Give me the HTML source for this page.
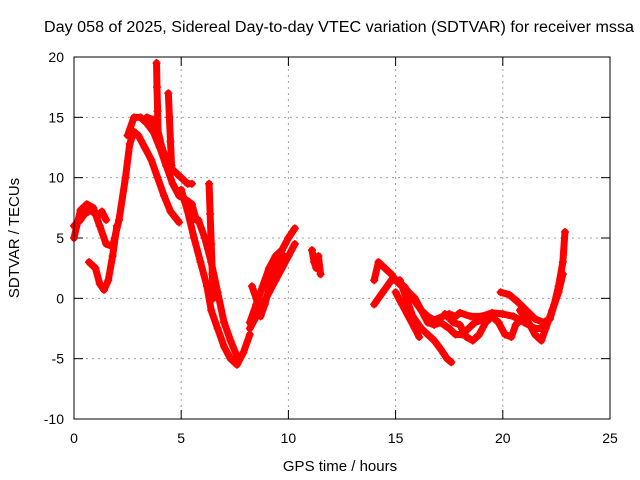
<!DOCTYPE html>
<html><head><meta charset="utf-8"><style>
body{margin:0;background:#fff}
svg{display:block;font-family:"Liberation Sans",sans-serif}
</style></head><body>
<svg id="chart" width="640" height="480">
<text x="339" y="32" font-size="15.5" text-anchor="middle" textLength="590" lengthAdjust="spacingAndGlyphs">Day 058 of 2025, Sidereal Day-to-day VTEC variation (SDTVAR) for receiver mssa</text>
<text x="340" y="471" font-size="15" text-anchor="middle">GPS time / hours</text>
<text transform="translate(19,238) rotate(-90)" font-size="15" text-anchor="middle">SDTVAR / TECUs</text>
<g id="grid"></g><g id="ticks"></g><g id="marks"></g>
<rect x="74" y="57" width="536" height="362" fill="none" stroke="#000" stroke-width="1"/>
</svg>
<script>
const xTicks=[0,5,10,15,20,25];
const yTicks=[-10,-5,0,5,10,15,20];
const s1=[[0,5],[0.3,7.3],[0.6,7.8],[0.9,7.5],[1.2,6],[1.5,4.5],[1.8,4.3],[2.1,6.5],[2.4,10],[2.6,12.8],[2.8,13.8],[3.0,13.5],[3.3,12.5],[3.6,11.5],[3.9,10],[4.2,8.5],[4.5,7.2],[4.9,6.3]];
const s2=[[0,6],[0.3,6.5],[0.5,7],[0.8,7.3],[1.1,6.8],[1.3,7.2],[1.5,6.5]];
const s3=[[0.7,3],[1.0,2.5],[1.2,1.2],[1.4,0.7],[1.6,1.5],[1.8,3.5],[2.0,6]];
const s4=[[2.5,13.5],[2.8,15],[3.1,15],[3.4,14.5],[3.7,13.8],[4.0,12.5],[4.3,11],[4.6,9.5],[4.9,8.5],[5.2,8.2],[5.5,7.8],[5.7,6.5]];
const s5=[[3.4,15],[3.7,14.8],[3.9,14],[4.1,12.5],[4.4,11],[4.7,10.5],[5.0,10],[5.3,9.5],[5.5,9.5]];
const s6=[[3.85,19.5],[3.87,17.5],[3.9,15.5],[3.92,13.5]];
const s7=[[4.4,17],[4.45,15],[4.5,13],[4.55,11]];
const s8=[[5.0,9],[5.3,7.2],[5.6,5],[5.9,3],[6.2,1],[6.4,-1],[6.7,-2.5],[7.0,-4],[7.3,-5],[7.6,-5.5],[7.9,-4.5],[8.2,-3]];
const s9=[[5.8,6.5],[6.1,5],[6.4,3],[6.7,0.5],[7.0,-2],[7.3,-3.5],[7.6,-4.8]];
const s10=[[6.3,9.5],[6.35,7],[6.4,4.5],[6.45,2],[6.5,0]];
const s11=[[8.2,-2],[8.5,-0.5],[8.8,1],[9.1,2.5],[9.4,3.5],[9.7,4],[10.0,5],[10.3,5.8]];
const s12=[[8.2,-2.5],[8.5,-1.5],[8.8,-0.5],[9.1,0.5],[9.4,1.5],[9.7,2.5],[10.0,3.5],[10.3,4.5]];
const s13=[[8.3,1],[8.5,0],[8.7,-1.5],[8.9,-0.5],[9.2,1.5],[9.5,3],[9.8,3.5]];
const s14=[[11.1,4],[11.2,3],[11.3,2.5],[11.4,3.5],[11.5,2]];
const p1=[[14.0,1.5],[14.2,3],[14.5,2.5],[14.8,2],[15.0,1.5],[15.3,1],[15.6,0.5],[15.9,0],[16.2,-1],[16.5,-1.5],[16.8,-1.8],[17.2,-1.5],[17.5,-1.3],[17.8,-1.5],[18.0,-1.2],[18.5,-1.5],[19.0,-1.5],[19.5,-1.2],[20.0,-1.3],[20.5,-1.5],[21.0,-2],[21.5,-2.5],[21.8,-2.5]];
const p2=[[14.0,-0.5],[14.4,0.5],[14.8,1.5],[15.2,1.5],[15.5,0],[15.8,-1.5],[16.2,-2.5],[16.5,-3],[16.8,-3.5],[17.1,-4.2],[17.4,-5],[17.6,-5.3]];
const p3=[[15.4,1],[15.8,0],[16.2,-1],[16.5,-2],[16.8,-2.2],[17.1,-2],[17.5,-2.5],[17.8,-3],[18.1,-3],[18.4,-2.5],[18.7,-2],[19.0,-1.8]];
const p4=[[17.3,-1.3],[17.7,-2],[18.0,-2.2],[18.3,-3.2],[18.6,-3.5],[18.9,-3],[19.2,-2],[19.5,-1.5],[19.8,-2],[20.1,-3],[20.4,-3.2],[20.6,-2.2],[21.0,-1.5]];
const p5=[[19.9,0.5],[20.3,0.3],[20.7,-0.3],[21.1,-1],[21.5,-1.7],[21.9,-2],[22.2,-1.7],[22.4,-0.5],[22.6,1],[22.8,3],[22.9,5.5]];
const p6=[[20.8,-1],[21.2,-2],[21.5,-3],[21.8,-3.5],[22.0,-2.5],[22.3,-1],[22.6,0.5],[22.8,2]];
const p7=[[15.0,0.5],[15.3,-0.5],[15.6,-1.5],[15.9,-2.5],[16.1,-3.2]];
const series=[s1,s2,s3,s4,s5,s6,s7,s8,s9,s10,s11,s12,s13,s14,p1,p2,p3,p4,p5,p6,p7];
const NS="http://www.w3.org/2000/svg";
const X=t=>74+t*(536/25);
const Y=v=>419-(v+10)*(362/30);
function mk(tag,attrs,parent){const e=document.createElementNS(NS,tag);for(const k in attrs)e.setAttribute(k,attrs[k]);parent.appendChild(e);return e;}
const grid=document.getElementById('grid'),ticks=document.getElementById('ticks'),marks=document.getElementById('marks');
xTicks.forEach(t=>{
  if(t>0&&t<25){const g=mk('line',{x1:X(t),x2:X(t),y1:57,y2:419,stroke:'#a0a0a0','stroke-dasharray':'2,4'},grid);
  
  }
  mk('line',{x1:X(t),x2:X(t),y1:419,y2:410,stroke:'#000'},ticks);
  mk('line',{x1:X(t),x2:X(t),y1:57,y2:66,stroke:'#000'},ticks);
  const l=mk('text',{x:X(t),y:443,'font-size':14,'text-anchor':'middle'},ticks);l.textContent=t;
  
  
});
yTicks.forEach(v=>{
  if(v>-10&&v<20){const g=mk('line',{x1:74,x2:610,y1:Y(v),y2:Y(v),stroke:'#a0a0a0','stroke-dasharray':'2,4'},grid);
  
  }
  mk('line',{x1:74,x2:83,y1:Y(v),y2:Y(v),stroke:'#000'},ticks);
  mk('line',{x1:610,x2:601,y1:Y(v),y2:Y(v),stroke:'#000'},ticks);
  const l=mk('text',{x:64,y:Y(v)+5,'font-size':14,'text-anchor':'end'},ticks);l.textContent=v;
  
  
});
series.forEach((s,i)=>{
  const pl=mk('polyline',{points:s.map(p=>X(p[0])+','+Y(p[1])).join(' '),fill:'none',stroke:'#ff0000','stroke-width':7,'stroke-linejoin':'round','stroke-linecap':'round'},marks);
  
  
  s.forEach(p=>{
    const m=mk('path',{d:`M${X(p[0])-4},${Y(p[1])}h8M${X(p[0])},${Y(p[1])-4}v8`,stroke:'#ff0000','stroke-width':1.5},marks);
    
    
  });
});
</script>
</body></html>
